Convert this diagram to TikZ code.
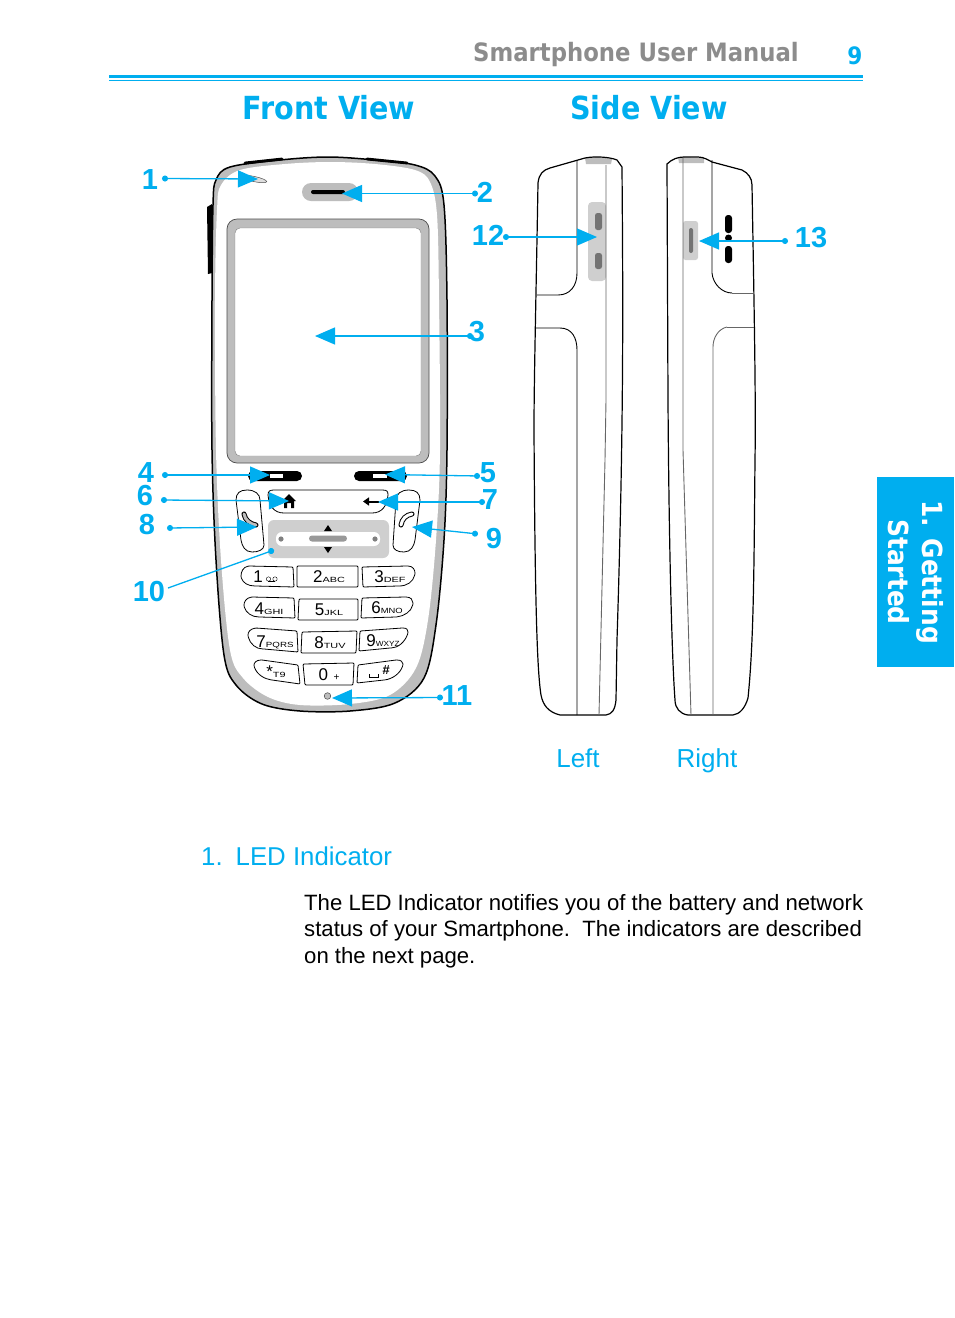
\documentclass[tikz,border=0pt]{standalone}
\usepackage{fontspec}
\setmainfont{Liberation Sans}
\newfontfamily\headfont{DejaVu Sans}[FakeStretch=0.9]
\usetikzlibrary{arrows.meta}
\definecolor{manualblue}{HTML}{00AEEF}
\definecolor{bandgray}{HTML}{BDBDBD}
\definecolor{padgray}{HTML}{CFCFCF}
\definecolor{headgray}{HTML}{8C8C8C}
\newcommand{\keytext}[3][1.45]{#2\scalebox{#1}[1]{\fontsize{7.5}{8}\selectfont #3}}
\tikzset{
    callout/.style={draw=manualblue, fill=manualblue, line width=1.3pt, {Circle[length=6pt]}-{Triangle[length=20pt, width=17pt]}},
    number/.style={text=manualblue, font=\fontsize{29}{29}\selectfont\bfseries, inner sep=0pt},
    keybox/.style={draw=black, line width=0.8pt, fill=white, rounded corners=1pt},
    keynum/.style={font=\fontsize{17}{17}\selectfont, inner sep=0pt},
    sideline/.style={draw=black, line width=1.2pt},
    thinline/.style={draw=black!60, line width=0.9pt},
    slot/.style={fill=black!55, rounded corners=2.5pt},
    view/.style={text=manualblue, font=\headfont\fontsize{31.8}{32}\selectfont\bfseries, inner sep=0pt}
}
\begin{document}
\begin{tikzpicture}[x=1pt, y=-1pt]
    \useasboundingbox (0,0) rectangle (954,1318);

    % header
    \node[text=headgray, font=\headfont\fontsize{25.3}{26}\selectfont\bfseries, anchor=east, inner sep=0pt] (head) at (799,55) {Smartphone User Manual};
    \node[text=manualblue, font=\headfont\fontsize{24}{24}\selectfont\bfseries, inner sep=0pt] (page) at (855,56) {9};
    \fill[manualblue] (109,75) rectangle (863,78);
    \fill[manualblue] (109,79.5) rectangle (863,81);
    \node[view] (front) at (329,108) {Front View};
    \node[view] (side) at (649,108) {Side View};

    % side tab
    \fill[manualblue] (877,477) rectangle (954,667);
    \node[rotate=-90, text=white, align=center, font=\headfont\fontsize{27.7}{34}\selectfont\bfseries, inner sep=0pt] (tab) at (916,572) {1. Getting\\Started};

    % phone body
    \fill[black] (207,207) -- (212,204) -- (212,273) -- (208,274) -- cycle;
    \draw[line width=1.5pt, fill=bandgray] plot[smooth cycle, tension=0.55] coordinates {(212,450) (212,300) (213,205) (216,180) (230,167) (280,160) (328,157) (375,160) (415,165) (435,176) (444,205) (447,300) (447,450) (444,540) (436,625) (424,678) (395,703) (350,711) (300,711) (262,704) (236,685) (224,655) (216,560)};
    \fill[white] plot[smooth cycle, tension=0.55] coordinates {(216,450) (215,300) (217,210) (221,185) (240,170) (285,164) (330,162) (375,164) (415,170) (430,182) (437,215) (439,300) (440,450) (436,540) (428,620) (416,668) (390,695) (350,704) (300,705) (268,697) (243,678) (230,650) (221,560)};
    \draw[line width=2.8pt, line cap=round] (245,163) -- (282,159);
    \draw[line width=2.8pt, line cap=round] (367,159) -- (407,163);

    % screen
    \draw[black!70, line width=0.7pt, fill=bandgray, rounded corners=10pt] (227,219) rectangle (429,463);
    \draw[black!50, line width=0.4pt, fill=white, rounded corners=5pt] (235,228) rectangle (421,456);

    % earpiece and led
    \fill[bandgray, rounded corners=9pt] (302,183) rectangle (358,201);
    \fill[black, rounded corners=2pt] (311,190) rectangle (345,194);
    \draw[black!70, fill=bandgray!50, line width=0.5pt, rotate around={-12:(254,179)}] (254,179) ellipse (13 and 2.6);

    % soft keys
    \fill[black, rounded corners=5pt] (248,471) rectangle (302,481);
    \fill[white] (270,474) rectangle (283,478);
    \fill[black, rounded corners=5pt] (354,471) rectangle (407,481);
    \fill[white] (373,474) rectangle (387,478);

    % home and back key
    \draw[line width=0.8pt, fill=white] (274,490) -- (382,490) .. controls (387,490) and (388,491) .. (388,495) .. controls (387,506) and (382,513) .. (372,513) -- (284,513) .. controls (274,513) and (269,506) .. (268,495) .. controls (268,491) and (270,490) .. (274,490) -- cycle;
    \fill[black] (289,494) -- (296,501) -- (294,501) -- (294,508) -- (291,508) -- (291,503) -- (287,503) -- (287,508) -- (284,508) -- (284,501) -- (282,501) -- cycle;
    \draw[line width=2pt, -{Triangle[length=6pt, width=8pt]}] (379,501.5) -- (363,501.5);

    % call keys
    \draw[line width=0.8pt, fill=white] (236,500) .. controls (236,493) and (240,490) .. (247,490) .. controls (255,490) and (260,494) .. (260,500) -- (264,545) .. controls (264,550) and (258,552) .. (252,552) .. controls (245,552) and (242,546) .. (241,540) -- cycle;
    \draw[line width=0.8pt, fill=white] (420,500) .. controls (420,493) and (416,490) .. (409,490) .. controls (401,490) and (396,494) .. (396,500) -- (393,545) .. controls (393,550) and (398,552) .. (404,552) .. controls (411,552) and (414,546) .. (415,540) -- cycle;
    \draw[line width=5pt, line cap=round] (244,514) .. controls (245,520) and (250,524) .. (256,525);
    \draw[bandgray, line width=3pt, line cap=round] (244,514) .. controls (245,520) and (250,524) .. (256,525);
    \draw[line width=5pt, line cap=round] (412,514) .. controls (406,515) and (402,519) .. (401,525);
    \draw[white, line width=3pt, line cap=round] (412,514) .. controls (406,515) and (402,519) .. (401,525);

    % navigation pad
    \fill[padgray, rounded corners=6pt] (268,520) rectangle (389,558);
    \fill[white, rounded corners=6pt] (276,532) rectangle (380,546);
    \fill[black!40, rounded corners=3pt] (309,535.5) rectangle (347,541.5);
    \fill[black!50] (281,539) circle (2.6);
    \fill[black!50] (375,539) circle (2.6);
    \fill[black] (328,525) -- (332,531) -- (324,531) -- cycle;
    \fill[black] (328,553) -- (332,547) -- (324,547) -- cycle;

    % keypad
    \draw[keybox] (249,566) .. controls (243,567) and (241,572) .. (241,577) .. controls (243,583) and (248,586) .. (256,586) -- (294,587) -- (293,567) -- cycle;
    \draw[keybox] (297,566) rectangle (358,587);
    \draw[keybox] (362,567) -- (407,566) .. controls (413,566) and (415,570) .. (415,574) .. controls (413,582) and (407,586) .. (398,586) -- (363,587) -- cycle;
    \draw[keybox] (252,597) .. controls (246,598) and (244,602) .. (244,606) .. controls (246,613) and (252,617) .. (260,617) -- (295,618) -- (294,598) -- cycle;
    \draw[keybox] (299,599) -- (358,599) -- (358,620) -- (298,620) -- cycle;
    \draw[keybox] (362,598) -- (405,597) .. controls (411,597) and (413,600) .. (413,604) .. controls (411,612) and (404,616) .. (396,617) -- (361,618) -- cycle;
    \draw[keybox] (256,628) .. controls (250,629) and (248,632) .. (248,636) .. controls (250,644) and (256,649) .. (264,649) -- (298,652) -- (297,631) -- cycle;
    \draw[keybox] (302,632) -- (357,631) -- (356,653) -- (301,653) -- cycle;
    \draw[keybox] (360,631) -- (402,628) .. controls (407,628) and (408,630) .. (408,633) .. controls (405,642) and (398,648) .. (390,648) -- (359,651) -- cycle;
    \draw[keybox] (262,660) .. controls (256,660) and (254,663) .. (254,666) .. controls (257,675) and (265,679) .. (272,680) -- (300,684) -- (298,665) -- cycle;
    \draw[keybox] (303,664) -- (354,663) -- (353,685) -- (305,685) -- cycle;
    \draw[keybox] (358,665) -- (396,660) .. controls (401,660) and (403,662) .. (403,665) .. controls (400,674) and (392,679) .. (384,680) -- (357,683) -- cycle;

    \node[keynum] (k1) at (258,577) {1};
    \draw[line width=0.4pt] (268.5,579) circle (2.2);
    \draw[line width=0.4pt] (275,579) circle (2.2);
    \draw[line width=0.4pt] (268,581.2) -- (275,581.2);
    \node[keynum] (k2) at (329,577) {\keytext{2}{ABC}};
    \node[keynum] (k3) at (390,577) {\keytext{3}{DEF}};
    \node[keynum] (k4) at (269,609) {\keytext{4}{GHI}};
    \node[keynum] (k5) at (329,610) {\keytext{5}{JKL}};
    \node[keynum] (k6) at (387,608) {\keytext[1.25]{6}{MNO}};
    \node[keynum] (k7) at (275,642) {\keytext[1.3]{7}{PQRS}};
    \node[keynum] (k8) at (330,643) {\keytext{8}{TUV}};
    \node[keynum] (k9) at (383,641) {\keytext[1.1]{9}{WXYZ}};
    \node[keynum] (kstar) at (276,672) {\keytext{*}{T9}};
    \node[keynum] (k0) at (329,675) {0\,{\fontsize{10}{10}\selectfont\ +}};
    \draw[line width=0.6pt] (369,674) -- (369,677) -- (378,677) -- (378,674);
    \node[keynum, font=\fontsize{13}{13}\selectfont\bfseries\itshape] (khash) at (386,670) {\#};

    % mouth piece
    \draw[black!70, fill=bandgray, line width=0.5pt] (327.5,696) circle (3.3);

    % left side
    \fill[padgray, rounded corners=4pt] (606,202) -- (588,202) -- (588,281) -- (606,281) -- cycle;
    \fill[bandgray] (585,158) -- (598,157) -- (612,159) -- (611,164) -- (586,164) -- cycle;
    \fill[slot] (595,213) rectangle (602,230);
    \fill[slot] (595,253) rectangle (602,269);
    \draw[sideline] (538,183) .. controls (539,174) and (543,170) .. (550,168) -- (585,158) .. controls (595,156) and (610,157) .. (617,160) -- (622,167) .. controls (623,300) and (624,420) .. (617,640) -- (616,700) .. controls (615,710) and (612,714) .. (606,715) -- (560,715) .. controls (548,712) and (543,705) .. (541,695) .. controls (537,670) and (535,600) .. (534,430) .. controls (534,380) and (536,300) .. (538,183) -- cycle;
    \draw[sideline, line width=0.9pt] (577,160) -- (577,273) .. controls (577,286) and (570,295) .. (558,295) -- (537,295);
    \draw[sideline, line width=0.9pt] (535,328) -- (560,328) .. controls (572,328) and (577,338) .. (577,350) -- (577,715);
    \draw[thinline] (606,165) -- (606,400) -- (605,460) -- (599,715);

    % right side
    \fill[padgray, rounded corners=2.5pt] (683,221) rectangle (698,260);
    \fill[black!55, rounded corners=2pt] (689,228) rectangle (693,253);
    \fill[bandgray] (678,157) -- (704,158) -- (704,163) -- (679,163) -- cycle;
    \fill[black, rounded corners=3pt] (725,215) rectangle (732,233);
    \fill[black] (728.5,238) circle (3.5);
    \fill[black, rounded corners=3pt] (725,246) rectangle (732,263);
    \draw[sideline] (667,164) .. controls (672,159) and (678,157) .. (684,157) -- (698,157) .. controls (704,157) and (708,160) .. (712,162) -- (742,170) .. controls (748,173) and (752,178) .. (752,185) .. controls (754,300) and (756,400) .. (755,460) .. controls (754,560) and (754,640) .. (748,698) .. controls (745,708) and (740,714) .. (733,715) -- (688,715) .. controls (680,714) and (675,708) .. (675,700) .. controls (672,660) and (669,550) .. (668,400) -- cycle;
    \draw[thinline] (683,158) -- (683,450) -- (691,715);
    \draw[sideline, line width=0.9pt] (712,160) -- (712,273) .. controls (713,284) and (722,293) .. (732,293);
    \draw[thinline] (732,293) -- (753,293);
    \draw[thinline] (754,327) -- (727,327);
    \draw[thinline] (727,327) .. controls (718,329) and (713,338) .. (713,347) -- (713,715);

    % callouts
    \coordinate (dot1) at (162,178.5);
    \coordinate (led) at (258,179);
    \coordinate (dot2) at (478,193.5);
    \coordinate (ear) at (342,193.5);
    \coordinate (dot3) at (473,336);
    \coordinate (screen) at (315,336);
    \coordinate (dot4) at (162,475);
    \coordinate (softl) at (270,475);
    \coordinate (dot5) at (480,476);
    \coordinate (softr) at (385,474.5);
    \coordinate (dot6) at (161,500);
    \coordinate (home) at (289,501);
    \coordinate (dot7) at (485,502);
    \coordinate (back) at (378,502);
    \coordinate (dot8) at (167,528);
    \coordinate (send) at (257,527);
    \coordinate (dot9) at (478,534);
    \coordinate (endkey) at (412,527);
    \coordinate (dot10) at (274,550);
    \coordinate (end10) at (168,588);
    \coordinate (dot11) at (443,697.5);
    \coordinate (mic) at (332,698);
    \coordinate (dot12) at (503,237);
    \coordinate (sidekey) at (597,237);
    \coordinate (dot13) at (788,241);
    \coordinate (slotkey) at (699,241);

    \draw [callout] (dot1) -- (led);
    \draw [callout] (dot2) -- (ear);
    \draw [callout] (dot3) -- (screen);
    \draw [callout] (dot4) -- (softl);
    \draw [callout] (dot5) -- (softr);
    \draw [callout] (dot6) -- (home);
    \draw [callout] (dot7) -- (back);
    \draw [callout] (dot8) -- (send);
    \draw [callout] (dot9) -- (endkey);
    \draw [callout] (dot11) -- (mic);
    \draw [callout] (dot12) -- (sidekey);
    \draw [callout] (dot13) -- (slotkey);
    \draw [draw=manualblue, fill=manualblue, line width=1.3pt, {Circle[length=6pt]}-] (dot10) -- (end10);

    \node[number] (n1) at (150,180) {1};
    \node[number] (n2) at (485,192) {2};
    \node[number] (n3) at (477,332) {3};
    \node[number] (n4) at (146,473) {4};
    \node[number] (n5) at (488,473) {5};
    \node[number] (n6) at (145,496) {6};
    \node[number] (n7) at (490,500) {7};
    \node[number] (n8) at (147,525) {8};
    \node[number] (n9) at (494,539) {9};
    \node[number] (n10) at (149,592) {10};
    \node[number] (n11) at (457,696) {11};
    \node[number] (n12) at (488,235) {12};
    \node[number] (n13) at (811,238) {13};

    % captions and text
    \node[text=manualblue, font=\fontsize{26}{26}\selectfont, anchor=base, inner sep=0pt] (left) at (578,767) {Left};
    \node[text=manualblue, font=\fontsize{26}{26}\selectfont, anchor=base, inner sep=0pt] (right) at (707,767) {Right};
    \node[text=manualblue, font=\fontsize{25.8}{26}\selectfont, anchor=base west, inner sep=0pt] (led title) at (201,865) {1.\hspace{13pt}LED Indicator};
    \node[font=\fontsize{22.15}{26.7}\selectfont, anchor=north west, align=left, inner sep=0pt] (body) at (304,894) {The LED Indicator notifies you of the battery and network\\status of your Smartphone.\ \ The indicators are described\\on the next page.};
\end{tikzpicture}
\end{document}
